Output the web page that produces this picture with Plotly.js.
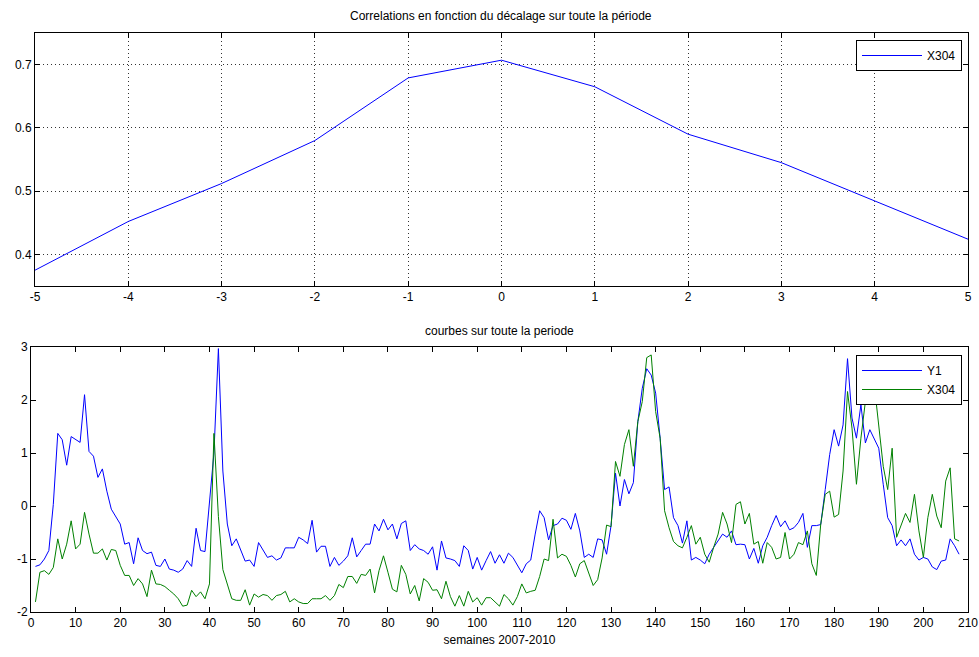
<!DOCTYPE html>
<html>
<head>
<meta charset="utf-8">
<script src="https://cdn.plot.ly/plotly-3.0.1.min.js"></script>
<style>html,body{margin:0;padding:0;background:#fff;}#chart{width:979px;height:657px;}</style>
</head>
<body>
<div id="chart"></div>
<script>
// Top chart: correlation vs lag
const lags = [-5, -4, -3, -2, -1, 0, 1, 2, 3, 4, 5];
const corrX304 = [0.375, 0.452, 0.512, 0.580, 0.679, 0.707, 0.665, 0.590, 0.545, 0.484, 0.424];

// Bottom chart: weekly curves (weeks 1..208)
const y1 = [
  -1.14, -1.11, -1.00, -0.84, 0.03, 1.37, 1.25, 0.77, 1.31, 1.25,
  1.20, 2.10, 1.03, 0.94, 0.54, 0.70, 0.28, -0.06, -0.19, -0.34,
  -0.72, -0.69, -1.09, -0.60, -0.84, -0.90, -0.87, -1.12, -1.14, -1.00,
  -1.19, -1.21, -1.25, -1.19, -1.03, -1.14, -0.42, -0.84, -0.86, 0.09,
  1.00, 2.97, 0.66, -0.34, -0.75, -0.62, -0.84, -1.04, -1.02, -1.14,
  -0.69, -0.84, -0.97, -0.94, -1.02, -0.98, -0.79, -0.79, -0.79, -0.59,
  -0.64, -0.71, -0.27, -0.87, -0.76, -0.76, -1.14, -0.97, -1.12, -1.04,
  -0.94, -0.60, -0.96, -0.84, -0.72, -0.72, -0.34, -0.47, -0.25, -0.45,
  -0.34, -0.62, -0.33, -0.28, -0.84, -0.73, -0.81, -0.84, -0.91, -0.77,
  -1.21, -0.66, -0.98, -1.00, -1.03, -1.14, -0.75, -0.84, -1.19, -0.97,
  -1.21, -1.03, -0.86, -1.08, -0.92, -1.08, -0.89, -0.97, -1.12, -1.26,
  -1.09, -1.02, -0.53, -0.09, -0.22, -0.64, -0.37, -0.34, -0.23, -0.27,
  -0.44, -0.14, -0.47, -0.97, -0.91, -0.97, -0.62, -0.64, -0.91, -0.37,
  0.62, 0.00, 0.50, 0.23, 0.44, 1.59, 2.22, 2.59, 2.47, 2.13,
  1.28, 0.31, 0.36, -0.22, -0.37, -0.70, -0.28, -1.02, -0.97, -1.02,
  -1.09, -0.91, -0.78, -0.65, -0.53, -0.59, -0.47, -0.73, -0.72, -0.73,
  -1.00, -0.80, -1.08, -0.75, -0.59, -0.37, -0.18, -0.39, -0.28, -0.45,
  -0.41, -0.31, -0.14, -0.78, -0.37, -0.37, -0.35, 0.31, 0.97, 1.44,
  1.13, 1.53, 2.78, 1.66, 1.28, 1.91, 1.19, 1.44, 1.28, 1.09,
  0.41, -0.22, -0.37, -0.75, -0.64, -0.75, -0.62, -0.91, -1.02, -0.97,
  -1.00, -1.15, -1.20, -1.04, -1.02, -0.62, -0.75, -0.91
];
const x304 = [
  -1.81, -1.25, -1.22, -1.29, -1.16, -0.62, -1.00, -0.72, -0.28, -0.81,
  -0.72, -0.12, -0.53, -0.89, -0.89, -0.81, -1.02, -0.82, -0.84, -1.12,
  -1.31, -1.31, -1.50, -1.37, -1.47, -1.71, -1.21, -1.47, -1.48, -1.52,
  -1.59, -1.66, -1.75, -1.89, -1.87, -1.59, -1.71, -1.62, -1.75, -1.47,
  1.37, -0.20, -1.20, -1.50, -1.75, -1.78, -1.78, -1.58, -1.87, -1.66,
  -1.72, -1.67, -1.69, -1.78, -1.69, -1.67, -1.61, -1.81, -1.75, -1.81,
  -1.84, -1.84, -1.75, -1.75, -1.75, -1.69, -1.78, -1.69, -1.48, -1.54,
  -1.33, -1.33, -1.46, -1.29, -1.31, -1.19, -1.64, -1.22, -0.94, -1.25,
  -1.57, -1.62, -1.12, -1.29, -1.66, -1.50, -1.79, -1.37, -1.44, -1.59,
  -1.58, -1.75, -1.42, -1.71, -1.89, -1.69, -1.89, -1.61, -1.81, -1.73,
  -1.87, -1.73, -1.73, -1.81, -1.89, -1.67, -1.75, -1.87, -1.71, -1.47,
  -1.64, -1.61, -1.59, -1.33, -1.00, -1.03, -0.25, -0.98, -0.91, -0.95,
  -1.12, -1.34, -1.09, -1.03, -1.28, -1.50, -1.39, -0.98, -0.36, -0.39,
  0.84, 0.56, 1.16, 1.44, 0.75, 1.59, 1.97, 2.80, 2.85, 1.78,
  1.28, -0.09, -0.41, -0.67, -0.75, -0.79, -0.59, -0.37, -0.72, -0.59,
  -0.91, -1.06, -0.78, -0.53, -0.12, -0.34, -0.69, 0.03, 0.08, -0.34,
  -0.14, -0.72, -0.67, -1.08, -0.69, -0.78, -1.00, -0.97, -0.50, -1.00,
  -0.91, -0.69, -0.73, -0.47, -1.09, -1.31, -0.34, 0.22, 0.28, -0.21,
  -0.16, 0.66, 2.16, 1.47, 0.41, 1.28, 1.97, 2.28, 2.28, 1.50,
  0.75, 0.31, 1.09, -0.59, -0.37, -0.14, -0.31, 0.22, -0.47, -0.97,
  -0.22, 0.22, -0.19, -0.41, 0.47, 0.72, -0.62, -0.66
];
const weeks = y1.map((_, i) => i + 1);

const xTicksTop = [-5, -4, -3, -2, -1, 0, 1, 2, 3, 4, 5];
const yTicksTop = [0.4, 0.5, 0.6, 0.7];
const xTicksBottom = [0, 10, 20, 30, 40, 50, 60, 70, 80, 90, 100, 110, 120, 130, 140, 150, 160, 170, 180, 190, 200, 210];
const yTicksBottom = [-2, -1, 0, 1, 2, 3];

const FONT = 'Liberation Sans Narrow, Liberation Sans, Arial, sans-serif';
const tickFont = {family: FONT, size: 12, color: '#000'};
const lbl = v => String(v); // plain hyphen-minus like the reference

const traces = [
  {x: weeks, y: y1, type: 'scatter', mode: 'lines', name: 'Y1',
   line: {color: '#0000ff', width: 1}, xaxis: 'x2', yaxis: 'y2', legend: 'legend'},
  {x: weeks, y: x304, type: 'scatter', mode: 'lines', name: 'X304',
   line: {color: '#008000', width: 1}, xaxis: 'x2', yaxis: 'y2', legend: 'legend'},
  {x: lags, y: corrX304, type: 'scatter', mode: 'lines', name: 'X304',
   line: {color: '#0000ff', width: 1}, xaxis: 'x', yaxis: 'y', legend: 'legend2'}
];

const W = 979, H = 657;
const axBase = {
  showline: true, linecolor: '#000', linewidth: 1, mirror: 'ticks',
  ticks: 'inside', ticklen: 5, tickcolor: '#000', tickfont: tickFont,
  zeroline: false
};
const gridStyle = {showgrid: true, gridcolor: '#333', griddash: '1px,3px', gridwidth: 1};

const layout = {
  width: W, height: H,
  margin: {l: 0, r: 0, t: 0, b: 0},
  paper_bgcolor: '#fff', plot_bgcolor: '#fff',
  showlegend: true,
  xaxis: Object.assign({}, axBase, gridStyle, {
    domain: [35 / W, 968 / W], range: [-5, 5], anchor: 'y',
    tickvals: xTicksTop, ticktext: xTicksTop.map(lbl)
  }),
  yaxis: Object.assign({}, axBase, gridStyle, {
    domain: [(H - 286) / H, (H - 33) / H], range: [0.35, 0.75], anchor: 'x',
    tickvals: yTicksTop, ticktext: yTicksTop.map(lbl)
  }),
  xaxis2: Object.assign({}, axBase, {
    domain: [31 / W, 968 / W], range: [0, 210], anchor: 'y2',
    tickvals: xTicksBottom, ticktext: xTicksBottom.map(lbl), showgrid: false,
    title: {text: 'semaines 2007-2010', font: {family: FONT, size: 12, color: '#000'}, standoff: 6}
  }),
  yaxis2: Object.assign({}, axBase, {
    domain: [(H - 612) / H, (H - 347) / H], range: [-2, 3], anchor: 'x2',
    tickvals: yTicksBottom, ticktext: yTicksBottom.map(lbl), showgrid: false
  }),
  legend2: {
    x: 962 / W, xanchor: 'right', y: (H - 40) / H, yanchor: 'top',
    bgcolor: '#fff', bordercolor: '#000', borderwidth: 1,
    font: {family: FONT, size: 12, color: '#000'}, itemwidth: 60,
    tracegroupgap: 0
  },
  legend: {
    x: 962 / W, xanchor: 'right', y: (H - 355) / H, yanchor: 'top',
    bgcolor: '#fff', bordercolor: '#000', borderwidth: 1,
    font: {family: FONT, size: 12, color: '#000'}, itemwidth: 60,
    tracegroupgap: 0
  },
  annotations: [
    {text: 'Correlations en fonction du décalage sur toute la période', xref: 'paper', yref: 'paper',
     x: (35 + 968) / 2 / W, y: (H - 16) / H, xanchor: 'center', yanchor: 'middle', showarrow: false,
     font: {family: FONT, size: 12, color: '#000'}},
    {text: 'courbes sur toute la periode', xref: 'paper', yref: 'paper',
     x: (31 + 968) / 2 / W, y: (H - 331) / H, xanchor: 'center', yanchor: 'middle', showarrow: false,
     font: {family: FONT, size: 12, color: '#000'}}
  ]
};

Plotly.newPlot('chart', traces, layout, {displayModeBar: false, staticPlot: true});
</script>
</body>
</html>
